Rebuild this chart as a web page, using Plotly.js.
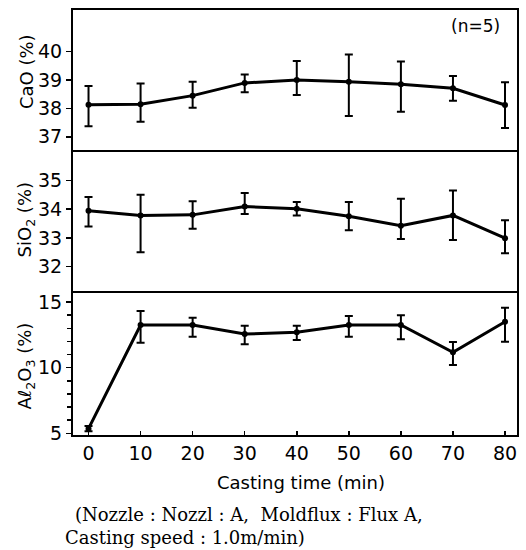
<!DOCTYPE html>
<html>
<head>
<meta charset="utf-8">
<script src="https://cdn.plot.ly/plotly-3.0.1.min.js"></script>
<style>html,body{margin:0;padding:0;background:#fff;}#chart{width:526px;height:550px;}</style>
</head>
<body>
<div id="chart"></div>
<script>
const time = [0, 10, 20, 30, 40, 50, 60, 70, 80];
const xTicks = [0, 10, 20, 30, 40, 50, 60, 70, 80];

const caoMean  = [38.13, 38.15, 38.45, 38.90, 39.00, 38.94, 38.85, 38.71, 38.12];
const caoUpper = [38.79, 38.88, 38.94, 39.20, 39.67, 39.90, 39.65, 39.14, 38.92];
const caoLower = [37.37, 37.53, 38.02, 38.57, 38.47, 37.73, 37.88, 38.27, 37.31];

const sioMean  = [33.94, 33.78, 33.80, 34.09, 34.01, 33.75, 33.42, 33.78, 32.99];
const sioUpper = [34.42, 34.50, 34.27, 34.56, 34.25, 34.25, 34.36, 34.65, 33.61];
const sioLower = [33.40, 32.50, 33.32, 33.83, 33.78, 33.27, 32.96, 32.93, 32.47];

const alMean  = [5.35, 13.25, 13.25, 12.56, 12.69, 13.25, 13.25, 11.17, 13.50];
const alUpper = [5.55, 14.31, 13.80, 13.20, 13.20, 13.93, 14.00, 11.95, 14.57];
const alLower = [5.15, 11.90, 12.36, 11.78, 12.10, 12.36, 12.16, 10.20, 11.98];

function trace(mean, up, lo, xa, ya) {
  return {
    x: time, y: mean, xaxis: xa, yaxis: ya,
    type: 'scatter', mode: 'lines+markers',
    line: {color: '#000', width: 3},
    marker: {color: '#000', size: 6},
    error_y: {
      type: 'data', symmetric: false,
      array: up.map((u, i) => u - mean[i]),
      arrayminus: lo.map((l, i) => mean[i] - l),
      color: '#000', thickness: 2, width: 4
    },
    showlegend: false, hoverinfo: 'skip'
  };
}

const data = [
  trace(caoMean, caoUpper, caoLower, 'x', 'y'),
  trace(sioMean, sioUpper, sioLower, 'x2', 'y2'),
  trace(alMean, alUpper, alLower, 'x3', 'y3')
];

const tickFont = {family: 'DejaVu Sans', size: 19, color: '#000'};
const xRange = [-2.98, 82.3];
function xAxis(anchor, bottom) {
  return {
    anchor: anchor, domain: [0, 1], range: xRange,
    side: bottom ? 'bottom' : 'top',
    showline: true, mirror: bottom, linecolor: '#000', linewidth: 2,
    showgrid: false, zeroline: false,
    tickmode: 'array', tickvals: xTicks, ticktext: xTicks.map(String),
    ticks: bottom ? 'inside' : '', ticklen: 4, tickwidth: 1.5, tickcolor: '#000',
    showticklabels: bottom, tickfont: tickFont
  };
}
function yAxis(anchor, domain, range, tickvals, minor) {
  const a = {
    anchor: anchor, domain: domain, range: range,
    showline: true, mirror: true, linecolor: '#000', linewidth: 2,
    showgrid: false, zeroline: false,
    tickmode: 'array', tickvals: tickvals, ticktext: tickvals.map(String),
    ticks: 'outside', ticklen: 5, tickwidth: 1.5, tickcolor: '#000',
    tickfont: tickFont
  };
  if (minor) a.minor = {dtick: 1, ticks: 'outside', ticklen: 4, tickwidth: 1.5, tickcolor: '#000', showgrid: false};
  return a;
}

const titleFont = {family: 'DejaVu Sans', size: 18, color: '#000'};
const capFont = {family: 'DejaVu Serif', size: 18, color: '#000'};
const layout = {
  width: 526, height: 550,
  margin: {l: 73, r: 9, t: 10, b: 115},
  paper_bgcolor: '#fff', plot_bgcolor: '#fff',
  xaxis: xAxis('y', false),
  xaxis2: xAxis('y2', false),
  xaxis3: xAxis('y3', true),
  yaxis: yAxis('x', [0.665, 1], [36.45, 41.47], [37, 38, 39, 40], false),
  yaxis2: yAxis('x2', [0.333, 0.665], [31.07, 35.97], [32, 33, 34, 35], false),
  yaxis3: yAxis('x3', [0, 0.333], [4.87, 15.65], [5, 10, 15], true),
  annotations: [
    {text: 'CaO (%)', xref: 'paper', yref: 'paper', x: -0.105, y: 0.855, textangle: -90, showarrow: false, font: titleFont, xanchor: 'center', yanchor: 'middle'},
    {text: 'SiO<sub>2</sub> (%)', xref: 'paper', yref: 'paper', x: -0.105, y: 0.508, textangle: -90, showarrow: false, font: titleFont, xanchor: 'center', yanchor: 'middle'},
    {text: 'Aℓ<sub>2</sub>O<sub>3</sub> (%)', xref: 'paper', yref: 'paper', x: -0.105, y: 0.162, textangle: -90, showarrow: false, font: titleFont, xanchor: 'center', yanchor: 'middle'},
    {text: '(n=5)', xref: 'paper', yref: 'paper', x: 0.907, y: 0.962, showarrow: false, font: {family: 'DejaVu Sans', size: 17, color: '#000'}, xanchor: 'center', yanchor: 'middle'},
    {text: 'Casting time (min)', xref: 'paper', yref: 'paper', x: 0.513, y: -0.111, showarrow: false, font: {family: 'DejaVu Sans', size: 18, color: '#000'}, xanchor: 'center', yanchor: 'middle'},
    {text: '(Nozzle : Nozzl : A,  Moldflux : Flux A,', xref: 'paper', yref: 'paper', x: 0.0, y: -0.188, showarrow: false, font: capFont, xanchor: 'left', yanchor: 'middle'},
    {text: 'Casting speed : 1.0m/min)', xref: 'paper', yref: 'paper', x: -0.0225, y: -0.24, showarrow: false, font: capFont, xanchor: 'left', yanchor: 'middle'}
  ]
};

Plotly.newPlot('chart', data, layout, {staticPlot: true, displayModeBar: false});
</script>
</body>
</html>
